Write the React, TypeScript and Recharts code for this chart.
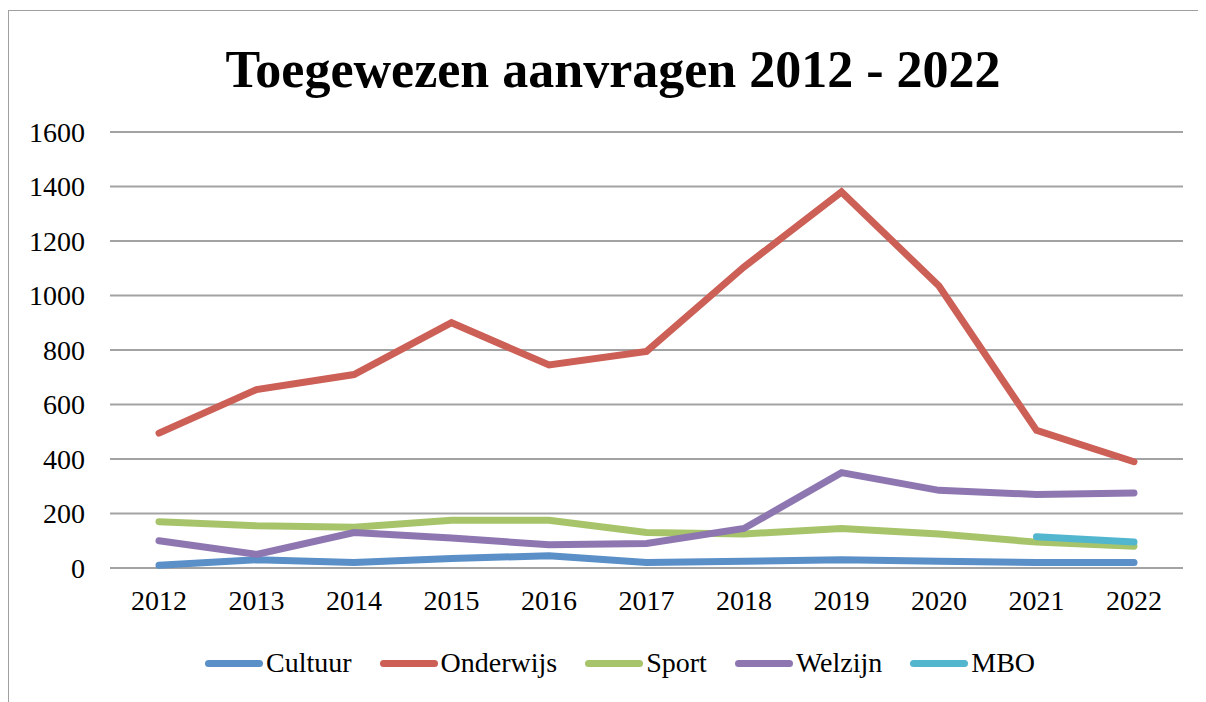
import React from 'react';
import { LineChart, Line, XAxis, YAxis, CartesianGrid } from 'recharts';

const years = ['2012', '2013', '2014', '2015', '2016', '2017', '2018', '2019', '2020', '2021', '2022'];
const cultuur = [10, 30, 20, 35, 45, 20, 25, 30, 25, 20, 20];
const onderwijs = [495, 655, 710, 900, 745, 795, 1105, 1380, 1035, 505, 390];
const sport = [170, 155, 150, 175, 175, 130, 125, 145, 125, 95, 80];
const welzijn = [100, 50, 130, 110, 85, 90, 145, 350, 285, 270, 275];
const mbo = [null, null, null, null, null, null, null, null, null, 115, 95];
const yTicks = [0, 200, 400, 600, 800, 1000, 1200, 1400, 1600];

const series = [
  { key: 'Cultuur', values: cultuur, color: '#5A8FC7' },
  { key: 'Onderwijs', values: onderwijs, color: '#CC5F56' },
  { key: 'Sport', values: sport, color: '#A7C46A' },
  { key: 'Welzijn', values: welzijn, color: '#8E77B1' },
  { key: 'MBO', values: mbo, color: '#52B6CF' },
];

const data = years.map((y, i) => {
  const row: Record<string, any> = { year: y };
  series.forEach((s) => {
    row[s.key] = s.values[i];
  });
  return row;
});

const FONT = '"Liberation Serif", "Times New Roman", serif';

export default function App() {
  return (
    <div style={{ position: 'relative', width: 1198, height: 694, fontFamily: FONT }}>
      <div
        style={{
          position: 'absolute',
          left: 0,
          top: 2,
          width: 1198,
          height: 700,
          borderLeft: '1.5px solid #a0a0a0',
          borderTop: '1.5px solid #a0a0a0',
          boxSizing: 'border-box',
        }}
      />
      <div
        style={{
          position: 'absolute',
          left: 605,
          top: 36,
          transform: 'translateX(-50%)',
          fontSize: 52,
          lineHeight: '52px',
          fontWeight: 'bold',
          whiteSpace: 'nowrap',
          color: '#000',
        }}
      >
        Toegewezen aanvragen 2012 - 2022
      </div>
      <div style={{ position: 'absolute', left: 0, top: 0 }}>
        <LineChart
          width={1198}
          height={694}
          data={data}
          margin={{ top: 124, right: 23, left: 0, bottom: 94 }}
        >
          <CartesianGrid vertical={false} stroke="#a3a3a3" strokeWidth={2} />
          <XAxis
            dataKey="year"
            height={40}
            axisLine={false}
            tickLine={false}
            tickSize={0}
            tickMargin={22}
            padding={{ left: 49, right: 49 }}
            tick={{ fontSize: 28, fill: '#000', fontFamily: FONT }}
            interval={0}
          />
          <YAxis
            width={102}
            domain={[0, 1600]}
            ticks={yTicks}
            axisLine={false}
            tickLine={false}
            tickSize={0}
            tickMargin={25}
            tick={{ fontSize: 28, fill: '#000', fontFamily: FONT }}
            interval={0}
          />
          {series.map((s) => (
            <Line
              key={s.key}
              type="linear"
              dataKey={s.key}
              stroke={s.color}
              strokeWidth={7}
              strokeLinecap="round"
              strokeLinejoin="miter"
              dot={false}
              activeDot={false}
              isAnimationActive={false}
              connectNulls={false}
            />
          ))}
        </LineChart>
      </div>
      <div
        style={{
          position: 'absolute',
          left: 197,
          top: 640,
          height: 30,
          display: 'flex',
          alignItems: 'center',
          gap: 28,
          fontSize: 28,
          whiteSpace: 'nowrap',
        }}
      >
        {series.map((s) => (
          <div key={s.key} style={{ display: 'flex', alignItems: 'center' }}>
            <div
              style={{
                width: 58,
                height: 7,
                borderRadius: 4,
                background: s.color,
                marginRight: 3,
              }}
            />
            <span style={{ lineHeight: '30px' }}>{s.key}</span>
          </div>
        ))}
      </div>
    </div>
  );
}
